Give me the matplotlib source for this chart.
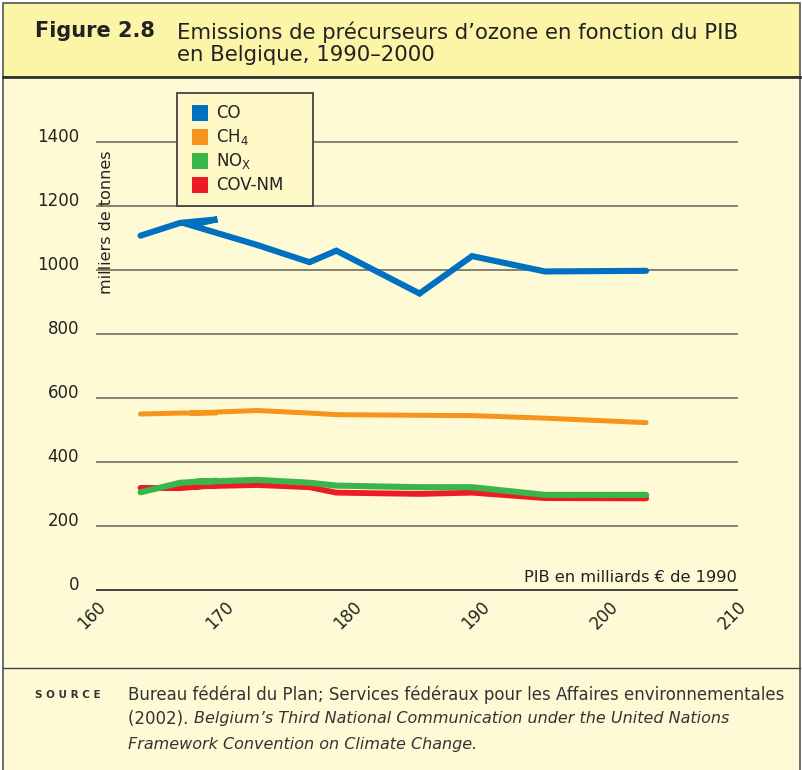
import matplotlib
matplotlib.use("Agg")
import matplotlib.pyplot as plt
import matplotlib.transforms as mtransforms
from matplotlib.patches import Rectangle
from matplotlib.lines import Line2D

# ---------------- data ----------------
years = [1990, 1991, 1992, 1993, 1994, 1995, 1996, 1997, 1998, 1999, 2000]
pib = [163.4, 166.5, 169.4, 167.3, 172.5, 176.6, 178.7, 185.2, 189.3, 195.0, 202.9]
co = [1107, 1147, 1158, 1140, 1078, 1024, 1060, 926, 1043, 995, 997]
ch4 = [549, 552, 553, 552, 560, 552, 547, 545, 544, 536, 522]
nox = [304, 334, 340, 336, 343, 334, 325, 320, 320, 296, 296]
covnm = [318, 317, 327, 322, 327, 320, 303, 299, 303, 286, 285]

series_labels = ["CO", "CH$_4$", "NO$_\\mathrm{X}$", "COV-NM"]
series_colors = ["#0070C0", "#F7941D", "#39B54A", "#ED1C24"]
yticks = [0, 200, 400, 600, 800, 1000, 1200, 1400]
xticks = [160, 170, 180, 190, 200, 210]

title_num = "Figure 2.8"
title_text = "Emissions de précurseurs d\u2019ozone en fonction du PIB\nen Belgique, 1990\u20132000"
ylabel = "milliers de tonnes"
xlabel = "PIB en milliards \u20ac de 1990"

# ---------------- figure ----------------
W, H = 803, 770
fig = plt.figure(figsize=(W / 100, H / 100), dpi=100)
fig.patch.set_facecolor("white")
plt.rcParams["font.family"] = ["DejaVu Sans"]


def fx(px):
    return px / W


def fy(py):
    return 1 - py / H


TITLE_BG = "#FCF4A6"
BODY_BG = "#FFFAD6"
EDGE = "#555555"
TXT = "#222222"

# backgrounds
fig.add_artist(Rectangle((fx(3), fy(77)), fx(800) - fx(3), fy(3) - fy(77),
                         transform=fig.transFigure, facecolor=TITLE_BG,
                         edgecolor=EDGE, linewidth=1.2, zorder=0))
fig.add_artist(Rectangle((fx(3), fy(772)), fx(800) - fx(3), fy(77) - fy(772),
                         transform=fig.transFigure, facecolor=BODY_BG,
                         edgecolor=EDGE, linewidth=1.2, zorder=0))
fig.add_artist(Line2D([fx(3), fx(800)], [fy(77), fy(77)], transform=fig.transFigure,
                      color="#333333", linewidth=2.0, zorder=1))
fig.add_artist(Line2D([fx(3), fx(800)], [fy(668), fy(668)], transform=fig.transFigure,
                      color="#444444", linewidth=1.0, zorder=1))

# title
fig.text(fx(35), fy(31), title_num, fontsize=15, fontweight="bold",
         color=TXT, va="center", ha="left")
fig.text(fx(177), fy(43), title_text, fontsize=15.3, color=TXT,
         va="center", ha="left", linespacing=1.12)

# axes
x0, x1 = 97, 737
y0px, y1400px = 589.5, 142
ax = fig.add_axes([fx(x0), fy(y0px), fx(x1) - fx(x0), fy(y1400px) - fy(y0px)])
ax.set_facecolor("none")
ax.set_xlim(160, 210)
ax.set_ylim(0, 1400)
for s in ["top", "right", "left"]:
    ax.spines[s].set_visible(False)
ax.spines["bottom"].set_color("#333333")
ax.spines["bottom"].set_linewidth(1.3)

for yv in yticks[1:]:
    ax.axhline(yv, color="#7d7868", linewidth=1.3, zorder=1, clip_on=False)

ax.set_yticks(yticks)
ax.set_yticklabels([str(v) for v in yticks])
ax.set_xticks(xticks)
ax.set_xticklabels([str(v) for v in xticks], rotation=45, ha="right",
                   va="top", rotation_mode="anchor")
ax.tick_params(axis="both", length=0, labelsize=12, colors=TXT)
ax.tick_params(axis="y", pad=13)
ax.tick_params(axis="x", pad=6)
up = mtransforms.ScaledTranslation(0, 5 / 100, fig.dpi_scale_trans)
for lab in ax.get_yticklabels():
    lab.set_verticalalignment("center")
    lab.set_transform(lab.get_transform() + up)

# lines (red under green)
ax.plot(pib, ch4, color=series_colors[1], linewidth=3.6, solid_capstyle="round",
        solid_joinstyle="miter", zorder=3, clip_on=False)
ax.plot(pib, covnm, color=series_colors[3], linewidth=4.2, solid_capstyle="round",
        solid_joinstyle="miter", zorder=3, clip_on=False)
ax.plot(pib, nox, color=series_colors[2], linewidth=4.4, solid_capstyle="round",
        solid_joinstyle="miter", zorder=4, clip_on=False)
ax.plot(pib, co, color=series_colors[0], linewidth=4.4, solid_capstyle="round",
        solid_joinstyle="miter", zorder=5, clip_on=False)

# axis labels
fig.text(fx(107), fy(222), ylabel, rotation=90, fontsize=11.5, color=TXT,
         va="center", ha="center")
fig.text(fx(737), fy(577), xlabel, fontsize=11.7, color=TXT,
         va="center", ha="right")

# legend (drawn by hand to match box geometry)
fig.add_artist(Rectangle((fx(177), fy(206)), fx(313) - fx(177), fy(93) - fy(206),
                         transform=fig.transFigure, facecolor="#FFF9C8",
                         edgecolor="#444444", linewidth=1.3, zorder=10))
for i, (lab, col) in enumerate(zip(series_labels, series_colors)):
    yc = 113 + 24 * i
    fig.add_artist(Rectangle((fx(192), fy(yc + 8)), fx(208) - fx(192), fy(yc - 8) - fy(yc + 8),
                             transform=fig.transFigure, facecolor=col,
                             edgecolor="none", zorder=11))
    fig.text(fx(216), fy(yc), lab, fontsize=12, color=TXT, va="center",
             ha="left", zorder=12)

# source
fig.text(fx(35), fy(695), "S O U R C E", fontsize=7.5, fontweight="bold",
         color="#333333", va="center", ha="left")
fs = 12
fsi = 11.5
fig.text(fx(128), fy(695),
         "Bureau f\u00e9d\u00e9ral du Plan; Services f\u00e9d\u00e9raux pour les Affaires environnementales",
         fontsize=fs, color="#333333", va="center", ha="left")
t1 = fig.text(fx(128), fy(719), "(2002). ", fontsize=fs, color="#333333",
              va="center", ha="left")
fig.canvas.draw()
bb = t1.get_window_extent(renderer=fig.canvas.get_renderer())
fig.text(bb.x1 / W, fy(719),
         "Belgium\u2019s Third National Communication under the United Nations",
         fontsize=fsi, style="italic", color="#333333", va="center", ha="left")
fig.text(fx(128), fy(744), "Framework Convention on Climate Change.",
         fontsize=fsi, style="italic", color="#333333", va="center", ha="left")

fig.savefig("out.png", dpi=100)
